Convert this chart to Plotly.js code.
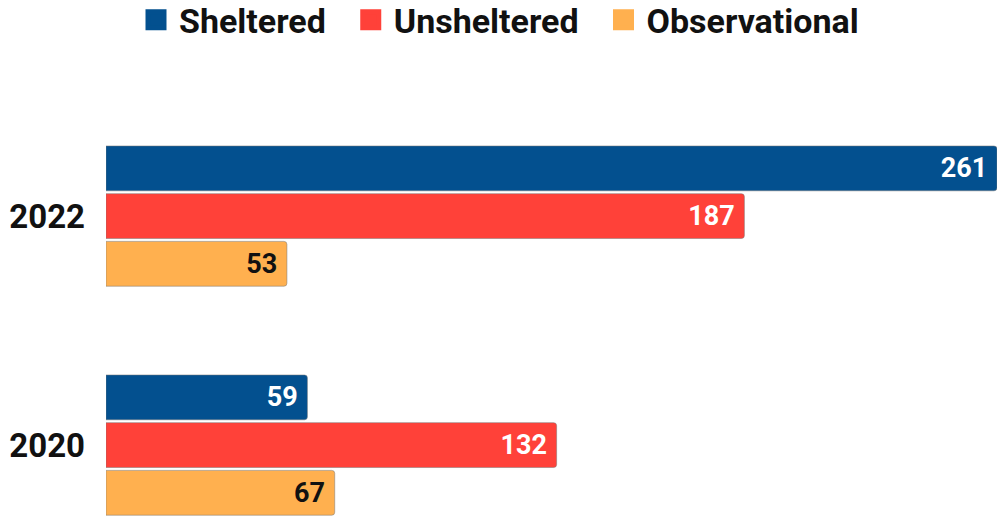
<!DOCTYPE html>
<html>
<head>
<meta charset="utf-8">
<script src="https://cdn.plot.ly/plotly-3.0.1.min.js"></script>
<style>html,body{margin:0;padding:0;background:#fff;}#chart{width:997px;height:517px;}</style>
</head>
<body>
<div id="chart"></div>
<script>
var years = ["2020", "2022"];
var sheltered = [59, 261];
var unsheltered = [132, 187];
var observational = [67, 53];
var seriesNames = ["Sheltered", "Unsheltered", "Observational"];
var seriesColors = ["#03508F", "#FF4139", "#FFB04F"];
var textColors = ["#ffffff", "#ffffff", "#111111"];
var seriesValues = [sheltered, unsheltered, observational];

var traces = [];
for (var i = seriesNames.length - 1; i >= 0; i--) {
  traces.push({
    type: "bar",
    orientation: "h",
    name: seriesNames[i],
    legendgroup: seriesNames[i],
    showlegend: false,
    y: years,
    x: seriesValues[i],
    texttemplate: "%{x}\u00a0",
    textposition: "inside",
    insidetextanchor: "end",
    textangle: 0,
    insidetextfont: {family: "Roboto", size: 27, color: textColors[i], weight: "bold"},
    marker: {color: seriesColors[i], line: {color: "rgba(120,120,120,0.5)", width: 1}},
    hoverinfo: "x+name"
  });
}
// legend entries (large square swatches), no visible points
for (var j = 0; j < seriesNames.length; j++) {
  traces.push({
    type: "scatter", mode: "markers",
    name: seriesNames[j] + (j < seriesNames.length - 1 ? "\u00a0\u00a0" : ""),
    legendgroup: seriesNames[j],
    x: [null], y: [years[0]],
    marker: {symbol: "square", size: 16, color: seriesColors[j], line: {color: seriesColors[j], width: 5}},
    showlegend: true, hoverinfo: "skip"
  });
}

var layout = {
  width: 997, height: 517,
  margin: {l: 106, r: 0, t: 100, b: 0},
  paper_bgcolor: "#fff", plot_bgcolor: "#fff",
  barmode: "group",
  bargap: 0.375,
  bargroupgap: 0.06,
  barcornerradius: 3,
  font: {family: "Roboto", color: "#000"},
  showlegend: true,
  legend: {
    orientation: "h", traceorder: "normal",
    xref: "container", yref: "container",
    x: 0.5, xanchor: "center", y: 0.961, yanchor: "middle",
    font: {family: "Roboto", size: 34, color: "#111", weight: "bold"},
    itemwidth: 36
  },
  xaxis: {range: [0, 261], showgrid: false, zeroline: false, showticklabels: false, showline: false, fixedrange: true},
  yaxis: {
    type: "category", range: [-0.314, 1.507],
    categoryorder: "array", categoryarray: years,
    showgrid: false, zeroline: false, showline: false,
    ticks: "", ticklabelstandoff: 20,
    tickfont: {family: "Roboto", size: 33, color: "#111", weight: "bold"}
  }
};

Plotly.newPlot("chart", traces, layout, {displayModeBar: false, staticPlot: true});
</script>
</body>
</html>
